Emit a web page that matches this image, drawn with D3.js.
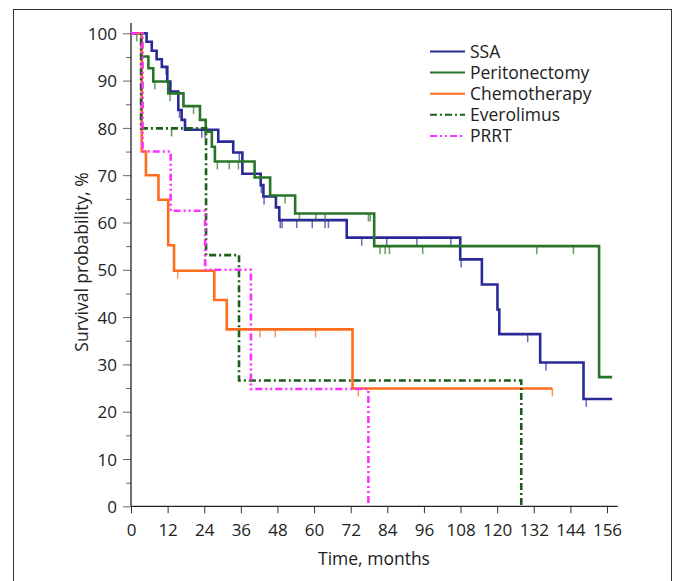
<!DOCTYPE html>
<html>
<head>
<meta charset="utf-8">
<script src="https://cdn.jsdelivr.net/npm/d3@7"></script>
<style>
  body { margin: 0; background: #fff; }
  text { font-family: 'Open Sans', 'Noto Sans', sans-serif; fill: #222; }
</style>
</head>
<body>
<svg id="chart" width="681" height="581"></svg>
<script>
// step points (time in months, survival %) and censor marks per group
const seriesNames = ['SSA', 'Peritonectomy', 'Chemotherapy', 'Everolimus', 'PRRT'];

const ssaTimes = [0, 5.1, 6.8, 8.4, 10.1, 11.9, 12.9, 15.5, 16.6, 17.7, 28.6, 33.5, 36.5, 42.5, 43.4, 47.5, 48.6, 70.7, 107.9, 115, 120.1, 120.7, 134.1, 148.3, 157.7];
const ssaSurv = [100, 98.2, 96.3, 94.5, 92.9, 89.8, 87.7, 83.8, 81.7, 79.6, 77.1, 74.8, 70.3, 67.9, 65.5, 63.2, 60.5, 56.8, 52.2, 46.9, 41.6, 36.4, 30.4, 22.7, 22.7];
const ssaCensor = [11.5, 15.9, 23.2, 24.3, 35.5, 42.7, 43.6, 48.9, 49.5, 54.3, 59.4, 63.6, 64.7, 75.6, 83.8, 93.7, 104.8, 108.2, 130, 136, 149.2];

const perTimes = [0, 3.5, 5.7, 7.3, 12.2, 17.2, 22.6, 24.5, 26.5, 27.5, 40.5, 45.6, 53.8, 79.7, 153.4, 157.7];
const perSurv = [100, 95.1, 92.6, 89.8, 87.3, 84.6, 81.7, 79.2, 76, 72.9, 69.5, 65.7, 61.9, 55, 27.3, 27.3];
const perCensor = [1.9, 7.8, 12.8, 20.5, 28.3, 32.2, 35.2, 50.5, 55.2, 60.6, 63.6, 77.8, 78.4, 81.6, 83.3, 84.7, 95.6, 133, 145];

const chemoTimes = [0, 3.5, 4.9, 9, 12.2, 14.1, 27.3, 31.4, 72.6, 138.1];
const chemoSurv = [100, 75, 70, 64.8, 55.2, 49.8, 43.6, 37.4, 24.9, 24.9];
const chemoCensor = [15.3, 42.3, 47.3, 60.5, 74.5, 138.1];

const everTimes = [0, 3.3, 24.6, 35.4, 127.9];
const everSurv = [100, 79.9, 53.1, 26.6, 0];
const everCensor = [13.3];

const prrtTimes = [0, 3.8, 13, 24.3, 39.3, 77.8];
const prrtSurv = [100, 75, 62.5, 50, 24.8, 0];
const prrtCensor = [];

const xTicks = [0, 12, 24, 36, 48, 60, 72, 84, 96, 108, 120, 132, 144, 156];
const yTicks = [0, 10, 20, 30, 40, 50, 60, 70, 80, 90, 100];
const yMinorTicks = [5, 15, 25, 35, 45, 55, 65, 75, 85, 95];

const groups = [
  { name: seriesNames[0], t: ssaTimes, s: ssaSurv, c: ssaCensor, color: '#2a2a98', dash: null },
  { name: seriesNames[1], t: perTimes, s: perSurv, c: perCensor, color: '#287528', dash: null },
  { name: seriesNames[2], t: chemoTimes, s: chemoSurv, c: chemoCensor, color: '#ff6c1c', dash: null },
  { name: seriesNames[3], t: everTimes, s: everSurv, c: everCensor, color: '#1b5e1b', dash: '7,3,2,3' },
  { name: seriesNames[4], t: prrtTimes, s: prrtSurv, c: prrtCensor, color: '#ff30ff', dash: '7,3,2,3,2,3' },
];

const svg = d3.select('#chart');

// outer frame
svg.append('rect')
  .attr('x', 13.5).attr('y', 9.5)
  .attr('width', 658).attr('height', 590)
  .attr('fill', 'none').attr('stroke', '#333').attr('stroke-width', 1);

const x = d3.scaleLinear().domain([0, 156]).range([131, 607]);
const y = d3.scaleLinear().domain([0, 100]).range([506.3, 33.3]);

// axes
const gX = svg.append('g')
  .attr('transform', 'translate(0,' + y(0) + ')')
  .call(d3.axisBottom(x).tickValues(xTicks).tickSize(7).tickPadding(11));
gX.select('.domain').remove();
gX.selectAll('.tick line').attr('stroke', '#333');
gX.selectAll('.tick text').style('font-size', '17px').attr('fill', '#222');

const gY = svg.append('g')
  .attr('transform', 'translate(' + x(0) + ',0)')
  .call(d3.axisLeft(y).tickValues(yTicks).tickSize(8).tickPadding(6));
gY.select('.domain').remove();
gY.selectAll('.tick line').attr('stroke', '#666');
gY.selectAll('.tick text').style('font-size', '17px').attr('fill', '#222').attr('dy', '0.36em');

svg.append('g')
  .attr('transform', 'translate(' + x(0) + ',0)')
  .call(d3.axisLeft(y).tickValues(yMinorTicks).tickSize(5).tickFormat(''))
  .call((g) => g.select('.domain').remove())
  .selectAll('.tick line').attr('stroke', '#666');

svg.append('line')
  .attr('x1', x(0)).attr('x2', x(159.5))
  .attr('y1', y(0)).attr('y2', y(0))
  .attr('stroke', '#222').attr('stroke-width', 1.3);
svg.append('line')
  .attr('x1', x(0)).attr('x2', x(0))
  .attr('y1', y(0)).attr('y2', y(102.2))
  .attr('stroke', '#222').attr('stroke-width', 1.3);

svg.append('text')
  .attr('x', 374).attr('y', 565)
  .attr('text-anchor', 'middle')
  .style('font-size', '17.5px')
  .text('Time, months');

svg.append('text')
  .attr('transform', 'translate(88,262) rotate(-90)')
  .attr('text-anchor', 'middle')
  .style('font-size', '17.5px')
  .text('Survival probability, %');

// curves
const line = d3.line()
  .x((d) => x(d[0]))
  .y((d) => y(d[1]))
  .curve(d3.curveStepAfter);

function survAt(g, t) {
  const i = d3.bisectRight(g.t, t) - 1;
  return g.s[Math.max(0, i)];
}

groups.forEach((g) => {
  const pts = g.t.map((t, i) => [t, g.s[i]]);
  svg.append('path')
    .datum(pts)
    .attr('fill', 'none')
    .attr('stroke', g.color)
    .attr('stroke-width', 2.6)
    .attr('stroke-dasharray', g.dash)
    .attr('d', line);

  svg.append('g')
    .selectAll('line')
    .data(g.c)
    .enter()
    .append('line')
    .attr('x1', (d) => x(d))
    .attr('x2', (d) => x(d))
    .attr('y1', (d) => y(survAt(g, d)))
    .attr('y2', (d) => y(survAt(g, d)) + 8)
    .attr('stroke', g.color)
    .attr('stroke-opacity', 0.7)
    .attr('stroke-width', 1.5);
});

// legend
const legend = svg.append('g').attr('transform', 'translate(430,51.5)');
groups.forEach((g, i) => {
  const row = legend.append('g').attr('transform', 'translate(0,' + i * 21.1 + ')');
  row.append('line')
    .attr('x1', 0).attr('x2', 35)
    .attr('y1', 0).attr('y2', 0)
    .attr('stroke', g.color)
    .attr('stroke-width', 2)
    .attr('stroke-dasharray', g.dash);
  row.append('text')
    .attr('x', 40).attr('y', 0)
    .attr('dy', '0.36em')
    .style('font-size', '17.5px')
    .text(g.name);
});
</script>
</body>
</html>
